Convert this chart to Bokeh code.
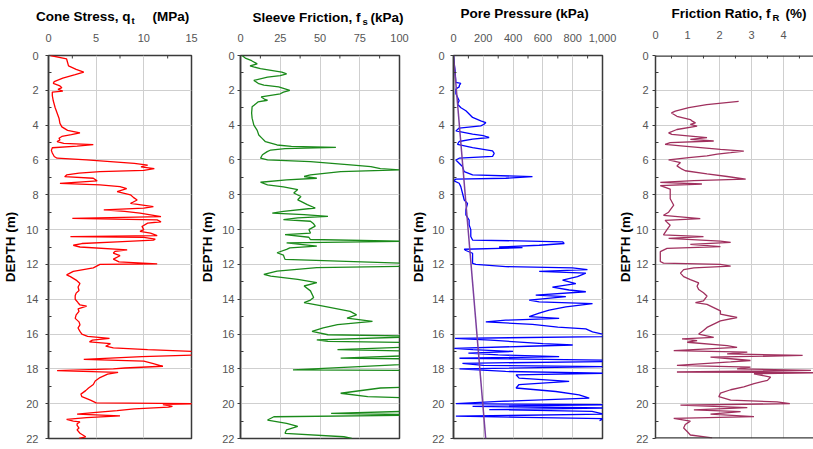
from bokeh.plotting import figure
from bokeh.models import Range1d, FixedTicker, Span
from bokeh.layouts import row, column
from bokeh.embed import file_html
from bokeh.resources import INLINE
from bokeh.core.properties import value

FONT = "Liberation Sans"
AX = "#3a3a3a"
GRID = "#cfcfcf"
TICKLBL = "#555555"

# ---------------- data ----------------
depth_ticks = [0, 2, 4, 6, 8, 10, 12, 14, 16, 18, 20, 22]
depth_minor = [1, 3, 5, 7, 9, 11, 13, 15, 17, 19, 21]

qt_ticks = [0, 5, 10, 15]
qt_minor = [2.5, 7.5, 12.5]
fs_ticks = [0, 25, 50, 75, 100]
fs_minor = [12.5, 37.5, 62.5, 87.5]
u_ticks = [0, 200, 400, 600, 800, 1000]
u_minor = [100, 300, 500, 700, 900]
fr_ticks = [0, 1, 2, 3, 4, 5, 6]
fr_minor = [0.5, 1.5, 2.5, 3.5, 4.5, 5.5]

# Cone stress qt (MPa)
qt_depth = [0.0, 0.2, 0.4, 0.6, 0.8, 0.95, 1.1, 1.3, 1.5, 1.6, 1.75, 1.85, 1.95, 2.05, 2.1, 2.3, 2.6, 3.0,
            3.3, 3.6, 3.9, 4.1, 4.3, 4.45, 4.55, 4.65, 4.75, 4.85, 4.95, 5.05, 5.12, 5.2, 5.3, 5.45, 5.6,
            5.8, 5.9, 6.0, 6.1, 6.2, 6.3, 6.4, 6.5, 6.6, 6.67, 6.76, 6.86, 6.96, 7.05, 7.2, 7.34, 7.43,
            7.53, 7.65, 7.82, 8.0, 8.15, 8.3, 8.5, 8.68, 8.77, 8.87, 8.95, 9.06, 9.25, 9.35, 9.44, 9.55,
            9.63, 9.82, 10.0, 10.1, 10.2, 10.35, 10.4, 10.45, 10.55, 10.6, 10.7, 10.8, 10.9, 11.0, 11.16,
            11.25, 11.35, 11.5, 11.7, 11.85, 11.97, 12.0, 12.2, 12.4, 12.6, 12.7, 12.9, 13.1, 13.3, 13.5,
            13.65, 13.8, 14.0, 14.2, 14.33, 14.4, 14.55, 14.7, 14.9, 15.1, 15.3, 15.47, 15.65, 15.85,
            16.0, 16.13, 16.25, 16.35, 16.45, 16.55, 16.7, 16.8, 16.9, 17.0, 17.1, 17.2, 17.3, 17.45,
            17.55, 17.7, 17.85, 17.95, 18.0, 18.1, 18.2, 18.3, 18.5, 18.7, 18.9, 19.1, 19.25, 19.45,
            19.6, 19.8, 19.95, 20.0, 20.05, 20.15, 20.2, 20.3, 20.4, 20.5, 20.6, 20.7, 20.8, 20.9, 21.0,
            21.05, 21.15, 21.25, 21.4, 21.5, 21.7, 21.9, 22.0]
qt_mpa = [0.2, 1.9, 2.0, 2.1, 2.9, 3.7, 2.8, 1.5, 0.6, 0.5, 1.2, 1.4, 1.0, 1.5, 0.4, 0.4, 0.5, 0.7,
          0.9, 1.1, 1.2, 1.4, 2.0, 3.3, 2.4, 1.4, 1.1, 1.2, 0.9, 1.6, 4.7, 3.0, 0.4, 0.3, 0.4,
          0.6, 0.9, 4.0, 6.5, 9.0, 10.4, 9.7, 11.1, 10.0, 5.4, 3.2, 1.9, 1.7, 4.7, 5.1, 1.2, 5.4,
          7.5, 8.2, 7.2, 8.6, 8.9, 9.3, 8.6, 11.0, 10.0, 5.8, 8.0, 9.6, 11.8, 2.5, 11.4, 11.8,
          10.4, 9.8, 10.0, 9.6, 10.7, 11.4, 2.3, 10.0, 11.2, 11.0, 7.2, 3.5, 2.6, 3.3, 8.25,
          7.0, 6.8, 7.5, 6.8, 7.4, 11.4, 5.4, 4.7, 2.6, 1.9, 2.3, 2.9, 3.3, 3.1, 3.2,
          2.9, 2.8, 2.8, 3.1, 3.3, 4.0, 3.1, 3.2, 2.9, 2.8, 3.2, 3.3, 3.1, 3.3,
          3.5, 4.1, 6.4, 4.6, 4.3, 6.5, 6.0, 6.8, 10.4, 15.0, 16.5, 15.5, 9.8, 3.7,
          10.0, 11.0, 12.0, 8.0, 6.8, 0.9, 7.3, 6.2, 5.4, 4.9, 4.7, 4.2, 3.9, 3.4,
          3.5, 4.4, 5.0, 15.5, 12.0, 13.0, 12.6, 9.0, 7.2, 5.0, 3.0, 7.5, 4.0, 1.9, 2.6,
          3.3, 3.0, 3.0, 3.2, 3.0, 3.3, 3.9, 3.2]

# Sleeve friction fs (kPa)
fs_depth = [0.0, 0.15, 0.3, 0.48, 0.6, 0.76, 0.95, 1.05, 1.15, 1.24, 1.43, 1.62, 1.7, 1.8, 2.0, 2.1, 2.2,
            2.38, 2.5, 2.57, 2.67, 2.86, 2.95, 3.3, 3.6, 4.0, 4.3, 4.57, 4.76, 4.95, 5.14, 5.22, 5.28,
            5.35, 5.43, 5.52, 5.7, 5.9, 6.0, 6.1, 6.3, 6.38, 6.5, 6.57, 6.67, 6.86, 6.95, 7.05, 7.14,
            7.28, 7.43, 7.55, 7.7, 7.9, 8.1, 8.29, 8.38, 8.57, 8.76, 8.95, 9.05, 9.14, 9.24, 9.33, 9.43,
            9.52, 9.67, 9.8, 10.0, 10.2, 10.29, 10.44, 10.57, 10.67, 10.76, 10.95, 11.05, 11.14, 11.33,
            11.47, 11.71, 11.96, 12.1, 12.19, 12.38, 12.57, 12.67, 12.86, 13.05, 13.24, 13.52, 13.9,
            14.05, 14.2, 14.4, 14.7, 14.9, 15.08, 15.27, 15.46, 15.65, 15.85, 16.04, 16.13, 16.33,
            16.42, 16.5, 16.7, 16.9, 17.0, 17.2, 17.38, 17.44, 17.67, 18.06, 18.1, 18.25, 18.6, 19.0,
            19.1, 19.4, 19.6, 19.7, 20.0, 20.4, 20.56, 20.65, 20.75, 20.94, 21.13, 21.3, 21.5, 21.7,
            21.9, 22.0]
fs_kpa = [1, 3, 7, 10.5, 6, 12.5, 26, 29, 25, 17, 8.4, 11.5, 14.7, 24, 31, 27, 25,
          13, 15, 17, 11, 8.5, 7.3, 7.0, 7.3, 8.4, 10.5, 11.5, 13.6, 15.7, 23, 32, 60,
          28, 19, 16.8, 13.8, 12.6, 17, 44, 71, 82, 88, 100, 63, 44, 40, 48, 29,
          12.6, 17, 27, 36, 33.5, 38, 36, 38, 42, 47, 27, 20, 40, 55, 36, 27,
          44, 46, 47, 43, 44, 28, 43, 44, 105, 29, 48, 31, 29, 23,
          27, 28, 110, 110, 48, 23, 14.7, 19, 36, 48, 40, 44, 46,
          44, 40, 52, 69, 73, 67, 83, 61, 52, 45, 55, 120, 48,
          55, 120, 120, 61, 120, 120, 63, 120, 120, 33, 120, 130, 140, 120,
          88, 63, 80, 120, 130, 120, 57, 120, 21, 17, 29, 36, 29, 28,
          65, 70]

# Pore pressure u2 (kPa)
u_depth = [0.0, 0.5, 0.87, 1.2, 1.54, 1.6, 1.7, 1.8, 1.92, 2.2, 2.6, 2.8, 3.0, 3.17, 3.4, 3.56, 3.75,
           3.85, 3.95, 4.04, 4.17, 4.33, 4.52, 4.6, 4.71, 4.8, 4.94, 5.1, 5.29, 5.48, 5.62, 5.8, 5.9,
           6.0, 6.38, 6.67, 6.86, 6.96, 7.05, 7.1, 7.19, 7.34, 7.53, 7.9, 8.3, 8.5, 8.87, 9.16, 9.45,
           9.73, 10.0, 10.4, 10.6, 10.7, 10.8, 10.9, 11.0, 11.04, 11.13, 11.2, 11.36, 11.56, 11.94,
           12.0, 12.13, 12.2, 12.3, 12.4, 12.5, 12.7, 12.9, 13.1, 13.3, 13.47, 13.57, 13.76, 13.85,
           14.05, 14.15, 14.25, 14.44, 14.63, 14.8, 15.0, 15.1, 15.2, 15.3, 15.45, 15.6, 15.7, 15.87,
           16.0, 16.06, 16.15, 16.25, 16.35, 16.45, 16.55, 16.63, 16.7, 16.82, 16.9, 17.0, 17.1, 17.2,
           17.3, 17.39, 17.5, 17.58, 17.68, 17.8, 17.87, 18.0, 18.15, 18.25, 18.34, 18.53, 18.72,
           18.9, 19.1, 19.3, 19.49, 19.68, 19.87, 20.0, 20.06, 20.15, 20.25, 20.34, 20.44, 20.6,
           20.72, 20.86, 20.97]
u_kpa = [0, 5, 11, 13, 16, 49, 40, 38, 16, 16, 38, 27, 50, 83, 110, 128, 183,
         217, 205, 183, 38, 16, 128, 200, 239, 128, 38, 27, 128, 262, 273, 262, 38,
         16, 60, 72, 128, 530, 351, 16, 0, 38, 49, 60, 72, 94, 83, 83, 105,
         105, 116, 116, 128, 732, 743, 575, 306, 463, 72, 83, 128, 128, 128,
         150, 351, 799, 899, 575, 888, 832, 732, 821, 664, 776, 888, 552, 754,
         508, 575, 933, 754, 642, 575, 508, 709, 351, 217, 530, 700, 888, 933,
         1000, 1010, 1000, 10, 250, 420, 600, 800, 500, 5, 130, 400, 100, 300,
         709, 40, 1010, 1010, 60, 200, 1010, 40, 350, 1010, 420, 440, 776,
         440, 420, 687, 843, 911, 306, 16, 1010, 128, 1010, 240, 930, 1010,
         16, 1010, 980]

# Hydrostatic pore pressure u0 (kPa)
u0_depth = [0.0, 22.0]
u0_kpa = [0.0, 216.0]

# Friction ratio fR (%)
fr_depth = [2.63, 2.82, 3.0, 3.2, 3.3, 3.49, 3.68, 3.77, 3.87, 3.96, 4.06, 4.25, 4.44, 4.53, 4.63, 4.72,
            4.82, 4.91, 5.0, 5.1, 5.2, 5.39, 5.49, 5.58, 5.67, 5.77, 5.87, 6.0, 6.15, 6.34, 6.53, 6.62,
            6.8, 6.95, 7.1, 7.19, 7.29, 7.38, 7.48, 7.67, 8.23, 8.6, 9.0, 9.18, 9.37, 9.47, 9.75, 10.0,
            10.3, 10.4, 10.5, 10.66, 10.73, 10.85, 10.98, 11.08, 11.27, 11.83, 11.93, 12.0, 12.1, 12.2,
            12.3, 12.5, 12.7, 12.87, 13.06, 13.25, 13.44, 13.63, 13.82, 14.1, 14.2, 14.3, 14.48, 14.67,
            14.86, 15.05, 15.24, 15.43, 15.62, 15.8, 16.0, 16.19, 16.28, 16.38, 16.47, 16.66, 16.76,
            16.95, 17.04, 17.14, 17.23, 17.33, 17.42, 17.52, 17.6, 17.8, 17.9, 18.0, 18.09, 18.18,
            18.22, 18.28, 18.47, 18.66, 18.85, 19.04, 19.2, 19.4, 19.6, 19.8, 19.9, 20.0, 20.08, 20.23,
            20.36, 20.46, 20.6, 20.74, 20.84, 21.0, 21.2, 21.4, 21.6, 21.8, 21.96]
fr_pct = [2.6, 1.6, 1.04, 0.62, 0.5, 0.67, 1.09, 1.15, 1.25, 1.09, 1.3, 0.67, 0.41, 0.51, 1.09, 1.61,
          1.09, 1.82, 0.46, 0.3, 0.88, 2.03, 2.76, 2.35, 1.93, 1.61, 1.04, 0.41, 0.78, 0.67, 0.83, 0.93,
          1.61, 2.24, 2.82, 1.2, 0.15, 1.45, 0.15, 0.46, 0.46, 0.57, 0.41, 0.25, 1.4, 0.3, 0.46, 0.36,
          0.25, 1.5, 0.41, 2.03, 2.35, 1.09, 2.03, 0.36, 0.15, 0.15, 0.25, 2.03, 2.35, 1.2,
          0.88, 0.78, 0.88, 1.09, 1.35, 1.3, 1.35, 1.5, 1.61, 1.5, 1.25, 1.61, 1.82, 2.03,
          2.03, 2.55, 2.03, 1.82, 1.61, 1.5, 1.35, 1.82, 0.83, 1.3, 0.99, 2.24, 2.55,
          0.57, 2.87, 2.24, 4.6, 1.72, 2.35, 2.97, 2.35, 0.67, 2.97, 2.55, 4.86, 0.67,
          5.2, 3.08, 3.6, 3.5, 3.08, 2.76, 2.35, 2.03, 1.98, 2.35, 3.8, 4.2, 0.78, 2.87,
          1.2, 2.66, 1.72, 3.08, 0.57, 1.09, 0.93, 0.88, 0.99, 1.09, 1.77]

# Panel titles: (main part, subscript, unit)
titles = [("Cone Stress, q", "t", "(MPa)"),
          ("Sleeve Friction, f", "s", "(kPa)"),
          ("Pore Pressure (kPa)", "", ""),
          ("Friction Ratio, f", "R", "(%)")]

W = 813
STRIP_H = 44
PANEL_H = 448 - STRIP_H

# layout of each panel's plotting frame in page pixels: left, width, x-axis end,
# ticks, y of the top tick labels
frames = [(48, 143, 15, qt_ticks, 37.4),
          (240, 159, 100, fs_ticks, 37.4),
          (453, 149, 1000, u_ticks, 37.0),
          (655, 158, 4.94, fr_ticks, 34.5)]

# ---- strip on top: panel titles and the top-axis numbers (real text) ----
tfig = figure(width=W, height=STRIP_H, x_range=Range1d(0, W), y_range=Range1d(STRIP_H, 0),
              x_axis_type=None, y_axis_type=None, toolbar_location=None, output_backend="svg",
              min_border=0, min_border_left=0, min_border_right=0, min_border_top=0,
              min_border_bottom=0, outline_line_color=None,
              background_fill_color="white", border_fill_color="white")


def ttext(xs, ys, texts, size, align, bold=True, color="#000000"):
    tfig.text(x=xs, y=ys, text=texts, text_font=value(FONT),
              text_font_style="bold" if bold else "normal",
              text_font_size=value(size), text_align=align, text_baseline="middle",
              text_color=color)


ttext([130, 360, 770], [16.2, 17.2, 13.3], [titles[0][0], titles[1][0], titles[3][0]], "13.5px", "right")
ttext([460], [12.5], [titles[2][0]], "13.5px", "left")
ttext([131, 362, 772], [19.7, 20.7, 17.0], [titles[0][1], titles[1][1], titles[3][1]], "9.5px", "left")
ttext([152, 370, 785], [16.2, 17.2, 13.3], [titles[0][2], titles[1][2], titles[3][2]], "13.5px", "left")

lx, ly, lt = [], [], []
for fl, fw, xe, ticks, yy in frames:
    for t in ticks:
        if t <= xe:
            lx.append(fl + t / xe * fw)
            ly.append(yy)
            lt.append(f"{t:,}")
ttext(lx, ly, lt, "11px", "center", bold=False, color=TICKLBL)


def make_panel(fig_w, bl, br, bt, bb, x_end, xticks, xminor, std_y, als, outline=True):
    frame_h = PANEL_H - max(bt, 10) - bb
    p = figure(width=fig_w, height=PANEL_H, x_range=Range1d(0, x_end), y_range=Range1d(22, 0),
               x_axis_location=None, toolbar_location=None, output_backend="svg",
               min_border_left=bl, min_border_right=br, min_border_top=bt, min_border_bottom=bb,
               background_fill_color="white", border_fill_color="white")
    p.outline_line_color = AX if outline else None
    p.outline_line_width = 1.5
    ya = p.yaxis[0]
    xt = FixedTicker(ticks=xticks, minor_ticks=xminor)
    yt = FixedTicker(ticks=depth_ticks, minor_ticks=depth_minor)
    ya.ticker = yt
    p.xgrid.ticker = xt
    p.ygrid.ticker = yt
    ya.axis_line_color = AX
    ya.axis_line_width = 1.5
    ya.major_tick_line_color = AX
    ya.major_tick_in = 0
    ya.major_tick_out = 3
    ya.minor_tick_line_color = AX
    ya.minor_tick_in = 3
    ya.minor_tick_out = 0
    ya.major_label_text_font = FONT
    ya.major_label_text_font_size = "11px"
    ya.major_label_text_color = TICKLBL
    ya.major_label_standoff = std_y
    ya.axis_label = "DEPTH (m)"
    ya.axis_label_text_font = FONT
    ya.axis_label_text_font_style = "bold"
    ya.axis_label_text_font_size = "13.5px"
    ya.axis_label_text_line_height = 1.0
    ya.axis_label_text_color = "#000000"
    ya.axis_label_standoff = als
    p.xgrid.grid_line_color = GRID
    p.ygrid.grid_line_color = GRID
    # small inward ticks under the top edge, at the minor tick values (3 px long)
    tick_len = 3 * 22.0 / frame_h
    mx = [m for m in xminor if m < x_end]
    p.segment(x0=mx, y0=[0] * len(mx), x1=mx, y1=[tick_len] * len(mx),
              line_color=AX, line_width=1)
    return p


# Panel 1: cone stress   (x 0..197, frame 48..191, y 55..441)
p1 = make_panel(197, 48, 6, 55 - STRIP_H, 7, 15, qt_ticks, qt_minor, 7, 5)
p1.line(qt_mpa, qt_depth, line_color="#ff0000", line_width=1.3)

# Panel 2: sleeve friction   (x 197..408, frame 240..399, y 53..438)
p2 = make_panel(211, 43, 9, 53 - STRIP_H, 10, 100, fs_ticks, fs_minor, 3, 4)
p2.line(fs_kpa, fs_depth, line_color="#1a8a1a", line_width=1.3)

# Panel 3: pore pressure   (x 408..615, frame 453..602, y 52..438)
p3 = make_panel(207, 45, 13, 52 - STRIP_H, 10, 1000, u_ticks, u_minor, 6, 3)
p3.line(u_kpa, u_depth, line_color="#0000ff", line_width=1.3)
p3.line(u0_kpa, u0_depth, line_color="#7b3f9e", line_width=1.5)

# Panel 4: friction ratio, cut by the window on the right   (x 615..813, frame 655.., y 49..438)
p4 = make_panel(198, 40, 0, 49 - STRIP_H, 10, 4.94, fr_ticks, fr_minor, 4, 0, outline=False)
p4.line(fr_pct, fr_depth, line_color="#a0305e", line_width=1.3)
p4.add_layout(Span(location=0, dimension="width", line_color=AX, line_width=2.5))
p4.add_layout(Span(location=22, dimension="width", line_color=AX, line_width=2.5))

layout = column(tfig, row(p1, p2, p3, p4))
open("out.html", "w").write(file_html(layout, INLINE))
